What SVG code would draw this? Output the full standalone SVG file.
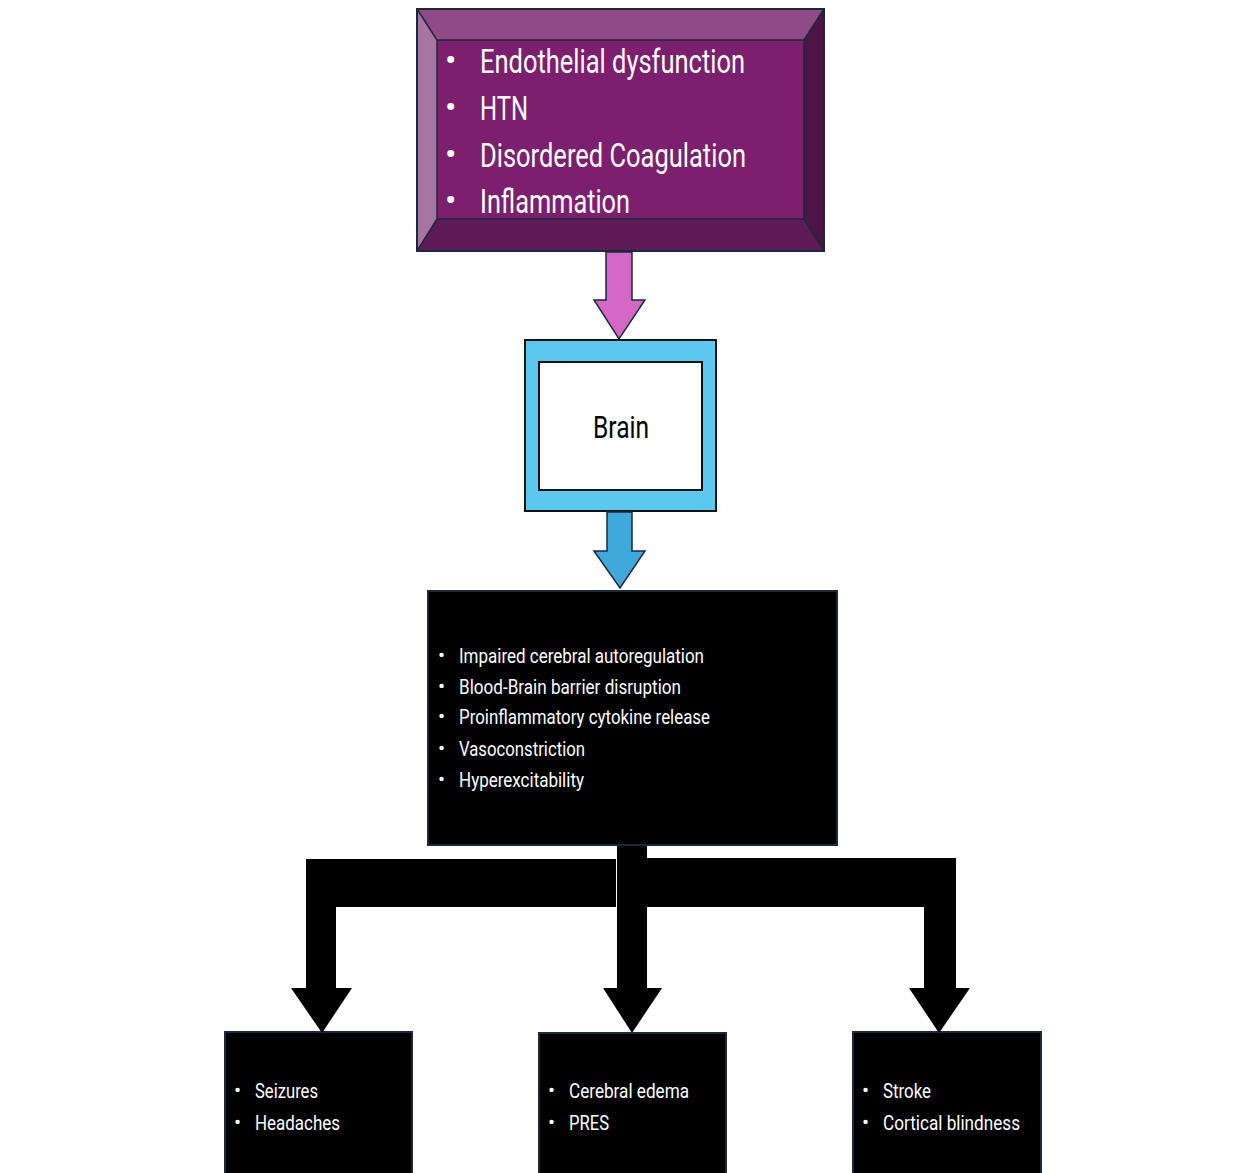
<svg xmlns="http://www.w3.org/2000/svg" width="1256" height="1173" viewBox="0 0 1256 1173">
<style>
text{font-family:Roboto,"Liberation Sans",sans-serif;}
.w{fill:#fff}
.k{fill:#000}
.t1{font-size:34px}
.t2{font-size:21px}
.blk{fill:#000;stroke:#1b2a3a;stroke-width:2}
.edge{stroke:#1b2a3a;stroke-width:1.5;stroke-linejoin:miter}
</style>
<rect width="1256" height="1173" fill="#fff"/>
<g id="node-causes">
<rect x="417" y="9" width="407" height="242" fill="#7b1f6e" stroke="#1b2a3a" stroke-width="2"/>
<polygon points="417,9 824,9 804,40 437,40" fill="#904a88"/>
<polygon points="417,9 437,40 437,219 417,251" fill="#a874a2"/>
<polygon points="824,9 824,251 804,219 804,40" fill="#4c1546"/>
<polygon points="417,251 437,219 804,219 824,251" fill="#5f1b58"/>
<rect x="417" y="9" width="407" height="242" fill="none" stroke="#1b2a3a" stroke-width="2"/>
<rect x="437" y="40" width="367" height="179" fill="none" stroke="#1b2a3a" stroke-width="1.5"/>
<line x1="417" y1="9" x2="437" y2="40" stroke="#1b2a3a" stroke-width="1.5"/>
<line x1="824" y1="9" x2="804" y2="40" stroke="#1b2a3a" stroke-width="1.5"/>
<line x1="417" y1="251" x2="437" y2="219" stroke="#1b2a3a" stroke-width="1.5"/>
<line x1="824" y1="251" x2="804" y2="219" stroke="#1b2a3a" stroke-width="1.5"/>
<g class="w t1">
<text x="445" y="72">•</text><text x="480" y="73" textLength="265" lengthAdjust="spacingAndGlyphs">Endothelial dysfunction</text>
<text x="445" y="119">•</text><text x="480" y="120" textLength="48" lengthAdjust="spacingAndGlyphs">HTN</text>
<text x="445" y="166">•</text><text x="480" y="167" textLength="266" lengthAdjust="spacingAndGlyphs">Disordered Coagulation</text>
<text x="445" y="212">•</text><text x="480" y="213" textLength="150" lengthAdjust="spacingAndGlyphs">Inflammation</text>
</g>
</g>
<g id="node-brain">
<rect x="525" y="340" width="191" height="171" fill="#5bc8f0" stroke="#111" stroke-width="2"/>
<rect x="539" y="362" width="163" height="128" fill="#fff" stroke="#111" stroke-width="2"/>
<text x="621" y="438" text-anchor="middle" font-size="31" class="k" textLength="56" lengthAdjust="spacingAndGlyphs">Brain</text>
</g>
<g id="node-mechanisms">
<rect x="428" y="591" width="409" height="254" class="blk"/>
<g class="w t2">
<text x="438" y="662">•</text><text x="459" y="663" textLength="245" lengthAdjust="spacingAndGlyphs">Impaired cerebral autoregulation</text>
<text x="438" y="693">•</text><text x="459" y="694" textLength="222" lengthAdjust="spacingAndGlyphs">Blood-Brain barrier disruption</text>
<text x="438" y="723">•</text><text x="459" y="724" textLength="251" lengthAdjust="spacingAndGlyphs">Proinflammatory cytokine release</text>
<text x="438" y="755">•</text><text x="459" y="756" textLength="126" lengthAdjust="spacingAndGlyphs">Vasoconstriction</text>
<text x="438" y="786">•</text><text x="459" y="787" textLength="125" lengthAdjust="spacingAndGlyphs">Hyperexcitability</text>
</g>
</g>
<g id="node-left">
<rect x="225" y="1032" width="187" height="145" class="blk"/>
<g class="w t2">
<text x="234" y="1097">•</text><text x="255" y="1098" textLength="63" lengthAdjust="spacingAndGlyphs">Seizures</text>
<text x="234" y="1129">•</text><text x="255" y="1130" textLength="85" lengthAdjust="spacingAndGlyphs">Headaches</text>
</g>
</g>
<g id="node-middle">
<rect x="539" y="1033" width="187" height="144" class="blk"/>
<g class="w t2">
<text x="548" y="1097">•</text><text x="569" y="1098" textLength="120" lengthAdjust="spacingAndGlyphs">Cerebral edema</text>
<text x="548" y="1129">•</text><text x="569" y="1130" textLength="40" lengthAdjust="spacingAndGlyphs">PRES</text>
</g>
</g>
<g id="node-right">
<rect x="853" y="1032" width="188" height="145" class="blk"/>
<g class="w t2">
<text x="862" y="1097">•</text><text x="883" y="1098" textLength="48" lengthAdjust="spacingAndGlyphs">Stroke</text>
<text x="862" y="1129">•</text><text x="883" y="1130" textLength="137" lengthAdjust="spacingAndGlyphs">Cortical blindness</text>
</g>
</g>
<g id="connectors">
<polygon class="edge" points="606,252 632,252 632,300 645,300 619,339 594,300 606,300" fill="#d567c7"/>
<polygon class="edge" points="607,512 632,512 632,551 645,551 620,588 594,551 607,551" fill="#3fa9dc"/>
<polygon points="617,846 647,846 647,988 662,988 632,1033 603,988 617,988" fill="#000"/>
<polygon points="616,859 616,907 336,907 336,988 352,988 322,1033 291,988 306,988 306,859" fill="#000"/>
<polygon points="647,858 956,858 956,988 970,988 939,1033 909,988 924,988 924,907 647,907" fill="#000"/>
</g>
</svg>
